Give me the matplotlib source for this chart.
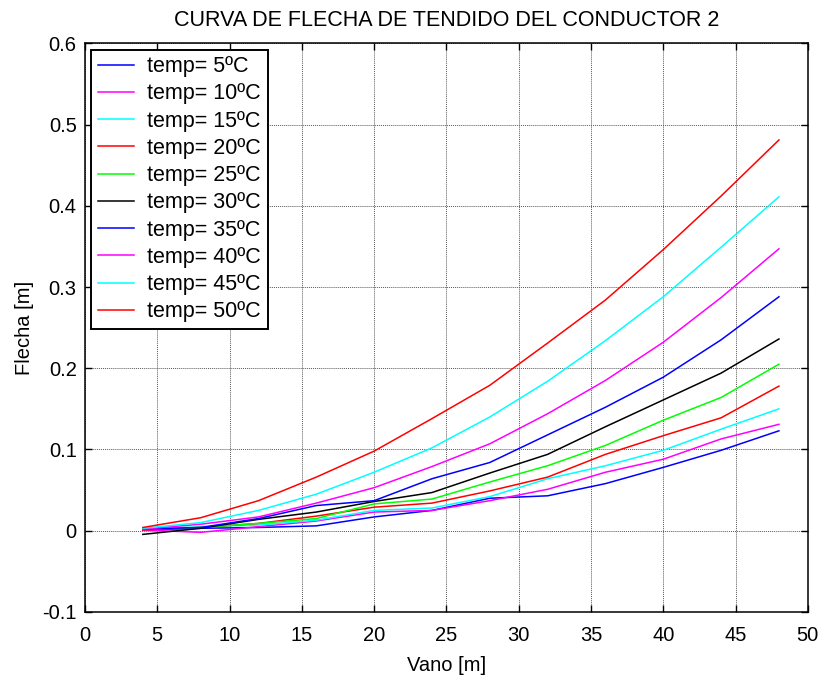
import matplotlib
matplotlib.use("Agg")
import matplotlib.pyplot as plt

# Vano [m]
vano = [4, 8, 12, 16, 20, 24, 28, 32, 36, 40, 44, 48]

# Flecha [m] per temperature
temps = [5, 10, 15, 20, 25, 30, 35, 40, 45, 50]
flecha_5 = [0.001, 0.003, 0.004, 0.006, 0.017, 0.025, 0.040, 0.043, 0.058, 0.078, 0.099, 0.123]
flecha_10 = [0.001, -0.002, 0.005, 0.012, 0.023, 0.025, 0.037, 0.051, 0.072, 0.088, 0.113, 0.131]
flecha_15 = [0.002, 0.005, 0.007, 0.013, 0.025, 0.028, 0.042, 0.064, 0.080, 0.099, 0.125, 0.150]
flecha_20 = [0.001, 0.004, 0.009, 0.018, 0.029, 0.034, 0.049, 0.066, 0.094, 0.117, 0.139, 0.178]
flecha_25 = [0.002, 0.004, 0.009, 0.015, 0.033, 0.039, 0.060, 0.080, 0.105, 0.136, 0.164, 0.205]
flecha_30 = [-0.0045, 0.003, 0.014, 0.023, 0.036, 0.047, 0.071, 0.094, 0.128, 0.161, 0.194, 0.236]
flecha_35 = [0.002, 0.004, 0.015, 0.031, 0.037, 0.064, 0.084, 0.118, 0.152, 0.189, 0.235, 0.288]
flecha_40 = [0.002, 0.008, 0.017, 0.034, 0.053, 0.079, 0.107, 0.144, 0.185, 0.232, 0.287, 0.347]
flecha_45 = [0.003, 0.010, 0.025, 0.045, 0.072, 0.102, 0.140, 0.184, 0.234, 0.288, 0.349, 0.411]
flecha_50 = [0.004, 0.016, 0.037, 0.066, 0.098, 0.138, 0.179, 0.231, 0.284, 0.346, 0.412, 0.481]

series = [flecha_5, flecha_10, flecha_15, flecha_20, flecha_25,
          flecha_30, flecha_35, flecha_40, flecha_45, flecha_50]
colors = ["#0000ff", "#ff00ff", "#00ffff", "#ff0000", "#00ff00",
          "#000000", "#0000ff", "#ff00ff", "#00ffff", "#ff0000"]

plt.rcParams["font.family"] = ["Liberation Sans", "DejaVu Sans"]

fig = plt.figure(figsize=(8.21, 6.76), dpi=100)
ax = fig.add_axes([0.1035, 0.0947, 0.8805, 0.8413])

for t, y, c in zip(temps, series, colors):
    ax.plot(vano, y, color=c, lw=1.1, label="temp= %dºC" % t)

ax.set_xlim(0, 50)
ax.set_ylim(-0.1, 0.6)
ax.set_xticks(range(0, 51, 5))
ax.set_yticks([-0.1, 0, 0.1, 0.2, 0.3, 0.4, 0.5, 0.6])
ax.set_yticklabels(["-0.1", "0", "0.1", "0.2", "0.3", "0.4", "0.5", "0.6"])
ax.tick_params(direction="in", top=True, right=True, length=5, width=1,
               labelsize=14.5)
ax.tick_params(axis="x", pad=10)
ax.tick_params(axis="y", pad=6)
ax.grid(True, color="0.35", linestyle=(0, (1, 1)), linewidth=0.7)
for s in ax.spines.values():
    s.set_linewidth(1.1)

ax.set_title("CURVA DE FLECHA DE TENDIDO DEL CONDUCTOR 2", fontsize=15.5, pad=12.5)
ax.set_xlabel("Vano [m]", fontsize=14.5, labelpad=8)
ax.set_ylabel("Flecha [m]", fontsize=14.5, labelpad=6)

leg = ax.legend(loc="upper left", prop={"size": 15.5}, fancybox=False, framealpha=1,
                edgecolor="black", handlelength=1.7, handletextpad=0.6,
                labelspacing=0.29, borderaxespad=0.3, borderpad=0.3)
leg.get_frame().set_linewidth(1.4)

fig.savefig("out.png", dpi=100)
